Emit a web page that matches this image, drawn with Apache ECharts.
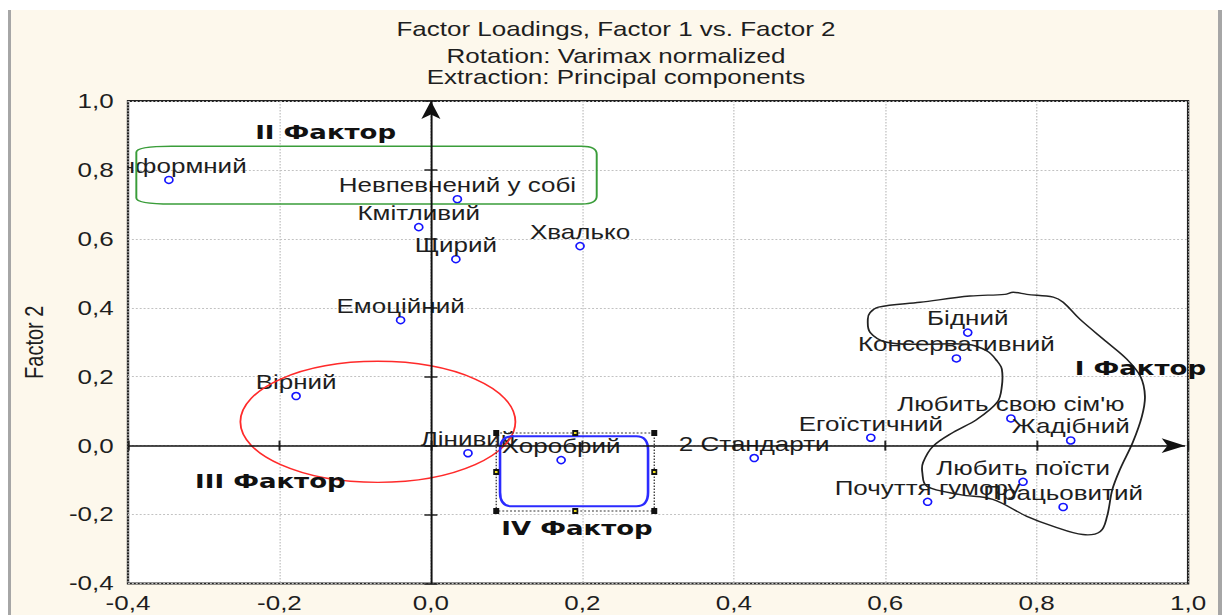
<!DOCTYPE html>
<html>
<head>
<meta charset="utf-8">
<script src="https://cdn.jsdelivr.net/npm/echarts@6/dist/echarts.min.js"></script>
<style>
  html, body { margin: 0; padding: 0; background: #fff; overflow: hidden; }
  #chart { position: absolute; left: 0; top: 0; height: 615px; transform-origin: 0 0; }
</style>
</head>
<body>
<div id="chart"></div>
<script>
// ---- data: factor loadings (Factor 1, Factor 2) per trait ----
const names = [
  'Конформний', 'Невпевнений у собі', 'Кмітливий', 'Щирий', 'Хвалько',
  'Емоційний', 'Вірний', 'Лінивий', 'Хоробрий', '2 Стандарти',
  'Егоїстичний', 'Бідний', 'Консервативний', "Любить свою сім'ю", 'Жадібний',
  'Любить поїсти', 'Почуття гумору', 'Працьовитий'
];
const factor1 = [
  -0.346, 0.035, -0.016, 0.033, 0.197,
  -0.040, -0.178, 0.049, 0.172, 0.427,
  0.581, 0.709, 0.694, 0.766, 0.845,
  0.782, 0.656, 0.835
];
const factor2 = [
  0.771, 0.715, 0.634, 0.541, 0.579,
  0.364, 0.144, -0.022, -0.042, -0.036,
  0.023, 0.328, 0.253, 0.079, 0.015,
  -0.105, -0.163, -0.178
];
const titleLines = [
  'Factor Loadings, Factor 1 vs. Factor 2',
  'Rotation: Varimax normalized',
  'Extraction: Principal components'
];
const yAxisName = 'Factor 2';
const axisMin = -0.4, xAxisMax = 1.0, yAxisMax = 1.0, axisStep = 0.2;

// ---- hand-drawn groupings, in loading units ----
const groupTags = [
  { text: 'I Фактор',   x: 0.937,  y: 0.227 },
  { text: 'II Фактор',  x: -0.139, y: 0.910 },
  { text: 'III Фактор', x: -0.212, y: -0.103 },
  { text: 'IV Фактор',  x: 0.193,  y: -0.238 }
];
const groupIIBox = { x0: -0.389, x1: 0.219, y0: 0.701, y1: 0.869 };
const groupIIIEllipse = { cx: -0.070, cy: 0.069, rx: 0.1816, ry: 0.1757 };
const groupIVBox = { x0: 0.0913, x1: 0.2868, y0: -0.176, y1: 0.027 };
const groupIVFrame = { x0: 0.0863, x1: 0.295, y0: -0.1897, y1: 0.0367 };
const groupIOutline = [
  [0.580, 0.386], [0.591, 0.402], [0.646, 0.416], [0.712, 0.434], [0.758, 0.439],
  [0.769, 0.445], [0.787, 0.439], [0.822, 0.431], [0.835, 0.416], [0.857, 0.367],
  [0.893, 0.300], [0.919, 0.251], [0.937, 0.201], [0.943, 0.143], [0.939, 0.085],
  [0.927, 0.010], [0.910, -0.069], [0.900, -0.127], [0.893, -0.205], [0.884, -0.249],
  [0.861, -0.258], [0.822, -0.234], [0.787, -0.205], [0.742, -0.156], [0.699, -0.142],
  [0.655, -0.118], [0.649, -0.078], [0.650, -0.049], [0.663, -0.002], [0.690, 0.039],
  [0.721, 0.076], [0.748, 0.126], [0.754, 0.172], [0.754, 0.222], [0.748, 0.245],
  [0.735, 0.274], [0.708, 0.294], [0.646, 0.294], [0.602, 0.300], [0.580, 0.329],
  [0.577, 0.367]
];

// ---- layout: the drawing is laid out narrow and stretched horizontally ----
const SX = 1.3;
const W = 1224 / SX;
const FONT = "'Liberation Sans', Arial, sans-serif";
const BOLD_FONT = "'DejaVu Sans', Verdana, sans-serif";
const INK = '#1e1e1e';

const el = document.getElementById('chart');
el.style.width = W + 'px';
el.style.transform = 'scaleX(' + SX + ')';

const fmt = v => (Math.abs(v) < 1e-9 ? 0 : v).toFixed(1).replace('.', ',');

// rounded box with separate horizontal / vertical corner radii (left and right pairs)
function roundBox(x0, y0, x1, y1, rl, rlv, rr, rrv) {
  return 'M' + (x0 + rl) + ' ' + y0 +
    ' L' + (x1 - rr) + ' ' + y0 +
    ' Q' + x1 + ' ' + y0 + ' ' + x1 + ' ' + (y0 + rrv) +
    ' L' + x1 + ' ' + (y1 - rrv) +
    ' Q' + x1 + ' ' + y1 + ' ' + (x1 - rr) + ' ' + y1 +
    ' L' + (x0 + rl) + ' ' + y1 +
    ' Q' + x0 + ' ' + y1 + ' ' + x0 + ' ' + (y1 - rlv) +
    ' L' + x0 + ' ' + (y0 + rlv) +
    ' Q' + x0 + ' ' + y0 + ' ' + (x0 + rl) + ' ' + y0 + ' Z';
}

function renderGroups(params, api) {
  const children = [];
  // II: green rounded outline
  const g0 = api.coord([groupIIBox.x0, groupIIBox.y1]);
  const g1 = api.coord([groupIIBox.x1, groupIIBox.y0]);
  children.push({
    type: 'path',
    shape: { pathData: roundBox(g0[0], g0[1], g1[0], g1[1], 27, 6, 11.5, 8) },
    style: { fill: 'none', stroke: '#3a9d3a', lineWidth: 1.5 }
  });
  // III: red ellipse
  const ec = api.coord([groupIIIEllipse.cx, groupIIIEllipse.cy]);
  const er = api.size([groupIIIEllipse.rx, groupIIIEllipse.ry]);
  children.push({
    type: 'ellipse',
    shape: { cx: ec[0], cy: ec[1], rx: er[0], ry: er[1] },
    style: { fill: 'none', stroke: '#ff2a2a', lineWidth: 1.4 }
  });
  // IV: blue rounded box inside a dotted selection frame with handles
  const f0 = api.coord([groupIVFrame.x0, groupIVFrame.y1]);
  const f1 = api.coord([groupIVFrame.x1, groupIVFrame.y0]);
  children.push({
    type: 'rect',
    shape: { x: f0[0], y: f0[1], width: f1[0] - f0[0], height: f1[1] - f0[1] },
    style: { fill: 'none', stroke: '#333', lineWidth: 1, lineDash: [1.5, 1.5] }
  });
  const b0 = api.coord([groupIVBox.x0, groupIVBox.y1]);
  const b1 = api.coord([groupIVBox.x1, groupIVBox.y0]);
  children.push({
    type: 'path',
    shape: { pathData: roundBox(b0[0], b0[1], b1[0], b1[1], 9, 14, 9, 14) },
    style: { fill: 'none', stroke: '#2b2bff', lineWidth: 2 }
  });
  const mx = (f0[0] + f1[0]) / 2, my = (f0[1] + f1[1]) / 2;
  const handles = [
    [f0[0], f0[1], 0], [mx, f0[1], 1], [f1[0], f0[1], 0],
    [f0[0], my, 1], [f1[0], my, 1],
    [f0[0], f1[1], 0], [mx, f1[1], 1], [f1[0], f1[1], 0]
  ];
  handles.forEach(h => {
    children.push({
      type: 'rect',
      shape: { x: h[0] - 2.3, y: h[1] - 3, width: 4.6, height: 6 },
      style: { fill: '#111' }
    });
    if (h[2]) {
      children.push({
        type: 'rect',
        shape: { x: h[0] - 1, y: h[1] - 1, width: 2, height: 2 },
        style: { fill: '#f0e020' }
      });
    }
  });
  // I: freehand black outline
  children.push({
    type: 'polygon',
    shape: { points: groupIOutline.map(p => api.coord(p)), smooth: 0.35 },
    style: { fill: 'none', stroke: '#222', lineWidth: 1.4 }
  });
  // group captions
  groupTags.forEach(t => {
    const p = api.coord([t.x, t.y]);
    children.push({
      type: 'text',
      x: p[0], y: p[1],
      style: {
        text: t.text, fill: '#111', align: 'center', verticalAlign: 'middle',
        font: 'bold 20px ' + BOLD_FONT
      }
    });
  });
  return { type: 'group', children: children };
}

const chart = echarts.init(el, null, { renderer: 'svg' });

const tickStyle = { show: true, inside: true, length: 5, lineStyle: { color: '#222', width: 1.5 } };
const labelStyle = { fontSize: 20, fontFamily: FONT, color: INK, formatter: fmt };
const splitStyle = { show: true, lineStyle: { color: '#c2c2c2', width: 1, type: [1.5, 1.5] } };

chart.setOption({
  animation: false,
  backgroundColor: 'transparent',
  graphic: [
    { type: 'rect', z: -10, silent: true,
      shape: { x: 11 / SX, y: 10, width: (1218 - 11) / SX, height: 615 },
      style: { fill: '#fdf8ec' } },
    { type: 'rect', z: -10, silent: true,
      shape: { x: 8 / SX, y: 10, width: 3 / SX, height: 615 },
      style: { fill: '#a6a6a6' } },
    { type: 'rect', z: -10, silent: true,
      shape: { x: 1218 / SX, y: 10, width: 4 / SX, height: 615 },
      style: { fill: '#a6a6a6' } }
  ],
  title: titleLines.map((t, i) => ({
    text: t,
    left: 616 / SX,
    top: [18.7, 46.3, 67.3][i],
    textAlign: 'center',
    padding: 0,
    textStyle: { fontSize: 20, fontWeight: 'normal', fontFamily: FONT, color: INK }
  })),
  grid: {
    left: 128 / SX, right: (1224 - 1187.5) / SX, top: 101, bottom: 31.5,
    show: true, backgroundColor: '#ffffff', borderColor: '#222', borderWidth: 1.8
  },
  xAxis: [
    { type: 'value', position: 'bottom', min: axisMin, max: xAxisMax, interval: axisStep,
      axisLine: { show: false }, axisTick: tickStyle,
      axisLabel: Object.assign({ margin: 9.5 }, labelStyle),
      splitLine: splitStyle },
    { type: 'value', position: 'top', min: axisMin, max: xAxisMax, interval: axisStep,
      axisLine: { show: false }, axisTick: tickStyle,
      axisLabel: { show: false }, splitLine: { show: false } }
  ],
  yAxis: [
    { type: 'value', position: 'left', min: axisMin, max: yAxisMax, interval: axisStep,
      name: yAxisName, nameLocation: 'middle', nameGap: 62, nameRotate: 90,
      nameTextStyle: { fontSize: 20, fontFamily: FONT, color: INK },
      axisLine: { show: false }, axisTick: tickStyle,
      axisLabel: Object.assign({ margin: 11 }, labelStyle),
      splitLine: splitStyle },
    { type: 'value', position: 'right', min: axisMin, max: yAxisMax, interval: axisStep,
      axisLine: { show: false }, axisTick: tickStyle,
      axisLabel: { show: false }, splitLine: { show: false } }
  ],
  series: [
    {
      type: 'scatter', z: 2, silent: true,
      data: factor1.map((x, i) => [x, factor2[i]]),
      symbol: 'circle', symbolSize: [6.2, 7],
      itemStyle: { color: 'rgba(255,255,255,0)', borderColor: '#1414ff', borderWidth: 1.4, opacity: 1 }
    },
    {
      // point names, clipped to the plot area
      type: 'custom', z: 3, silent: true, clip: true,
      data: factor1.map((x, i) => [x, factor2[i]]),
      renderItem: (params, api) => {
        const p = api.coord([api.value(0), api.value(1)]);
        return {
          type: 'text', x: p[0], y: p[1] - 14,
          style: {
            text: names[params.dataIndex], fill: INK, align: 'center',
            verticalAlign: 'middle', font: '20px ' + FONT
          }
        };
      }
    },
    {
      type: 'custom', z: 4, silent: true, clip: false,
      data: [[0, 0]],
      renderItem: renderGroups
    },
    {
      // coordinate arrows through the origin
      type: 'line', z: 5, silent: true, data: [],
      markLine: {
        silent: true, animation: false,
        symbol: ['none', 'arrow'], symbolSize: [11, 18],
        label: { show: false },
        lineStyle: { color: '#111', width: 1.5, type: 'solid' },
        data: [
          [{ coord: [axisMin, 0] }, { coord: [0.996, 0] }],
          [{ coord: [0, axisMin] }, { coord: [0, yAxisMax] }]
        ]
      }
    }
  ]
});
</script>
</body>
</html>
